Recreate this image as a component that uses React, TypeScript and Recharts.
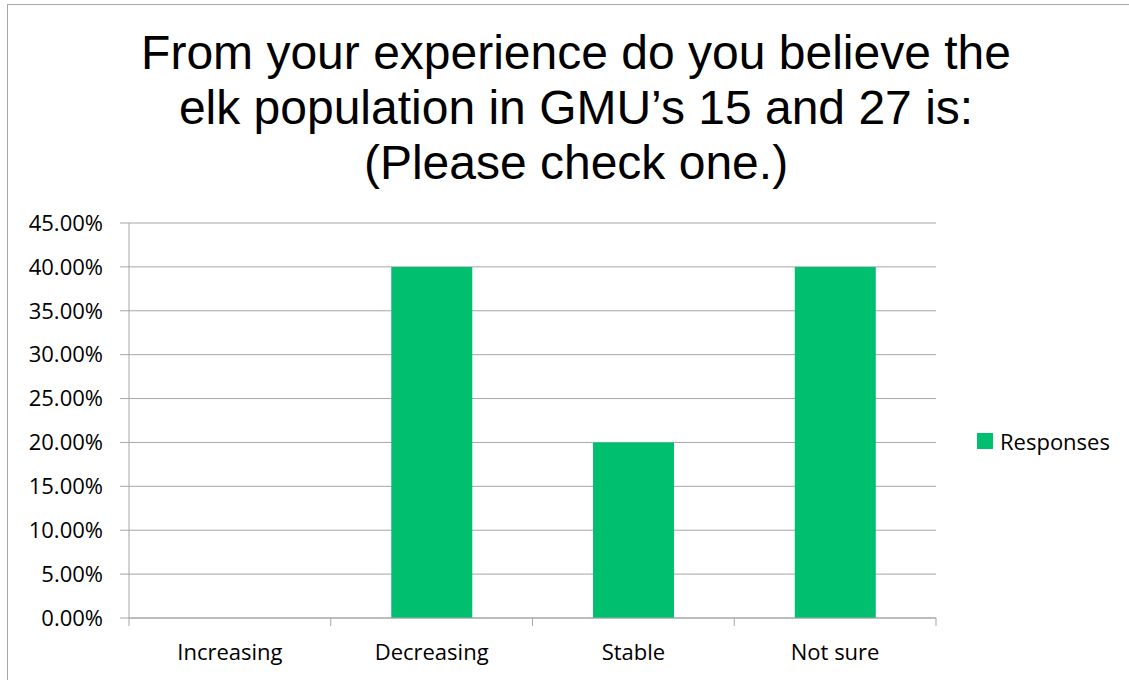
import { BarChart, Bar, XAxis, YAxis, CartesianGrid, Legend } from "recharts";

const categories = ["Increasing", "Decreasing", "Stable", "Not sure"];
const responses = [0, 0.4, 0.2, 0.4];
const yTicks = [0, 0.05, 0.1, 0.15, 0.2, 0.25, 0.3, 0.35, 0.4, 0.45];
const titleLines = [
  "From your experience do you believe the",
  "elk population in GMU\u2019s 15 and 27 is:",
  "(Please check one.)",
];

const data = categories.map((name, i) => ({ name, Responses: responses[i] }));

const W = 1129;
const H = 680;
const MARGIN = { top: 223, right: 193, bottom: 22, left: 29 };
const PLOT_W = W - MARGIN.left - 100 - MARGIN.right;
const GRID = "#a6a6a6";
const GREEN = "#00bf6f";
const FONT = "'Open Sans', sans-serif";
const X_TICK = 8;
const X_MARGIN = 18;

function CategoryTick(props: any) {
  const { x, y, payload, index } = props;
  const half = PLOT_W / categories.length / 2;
  const axisY = y - X_TICK - X_MARGIN;
  return (
    <g>
      <line x1={x - half} y1={axisY} x2={x - half} y2={axisY + X_TICK} stroke={GRID} />
      {index === categories.length - 1 && (
        <line x1={x + half} y1={axisY} x2={x + half} y2={axisY + X_TICK} stroke={GRID} />
      )}
      <text x={x} y={y} dy="0.71em" textAnchor="middle" fill="#000" fontSize={22} fontFamily={FONT}>
        {payload.value}
      </text>
    </g>
  );
}

function LegendBox(props: any) {
  const { payload } = props;
  return (
    <div>
      {(payload || []).map((p: any) => (
        <div key={p.value} style={{ display: "flex", alignItems: "center", fontFamily: FONT, fontSize: 22, color: "#000" }}>
          <span style={{ display: "inline-block", width: 16, height: 16, background: p.color, marginRight: 7 }} />
          <span>{p.value}</span>
        </div>
      ))}
    </div>
  );
}

export default function App() {
  return (
    <div style={{ position: "absolute", left: 0, top: 0, width: W, height: H, overflow: "hidden", background: "#fff" }}>
      <div style={{ position: "absolute", left: 7, top: 4, width: 1400, height: 900, borderLeft: `1px solid ${GRID}`, borderTop: `1px solid ${GRID}` }} />
      <div
        style={{
          position: "absolute",
          left: 0,
          width: 1152,
          top: 25,
          textAlign: "center",
          fontFamily: "'Liberation Sans', Arial, sans-serif",
          fontSize: 48,
          lineHeight: "55px",
          color: "#000",
        }}
      >
        {titleLines.map((t) => (
          <div key={t}>{t}</div>
        ))}
      </div>
      <div style={{ position: "absolute", left: 0, top: 0 }}>
        <BarChart width={W} height={H} data={data} margin={MARGIN} barCategoryGap="30%">
          <CartesianGrid vertical={false} stroke={GRID} />
          <XAxis
            dataKey="name"
            height={40}
            stroke={GRID}
            tickLine={false}
            tickSize={X_TICK}
            tickMargin={X_MARGIN}
            tick={<CategoryTick />}
            interval={0}
          />
          <YAxis
            width={100}
            domain={[0, 0.45]}
            ticks={yTicks}
            stroke={GRID}
            tickSize={9}
            tickMargin={17}
            tickFormatter={(v: number) => (v * 100).toFixed(2) + "%"}
            tick={{ fill: "#000", fontSize: 22, fontFamily: FONT }}
          />
          <Legend
            layout="horizontal"
            verticalAlign="middle"
            align="center"
            content={<LegendBox />}
            wrapperStyle={{ left: 977, top: 426, width: "auto" }}
          />
          <Bar dataKey="Responses" fill={GREEN} isAnimationActive={false} />
        </BarChart>
      </div>
    </div>
  );
}
